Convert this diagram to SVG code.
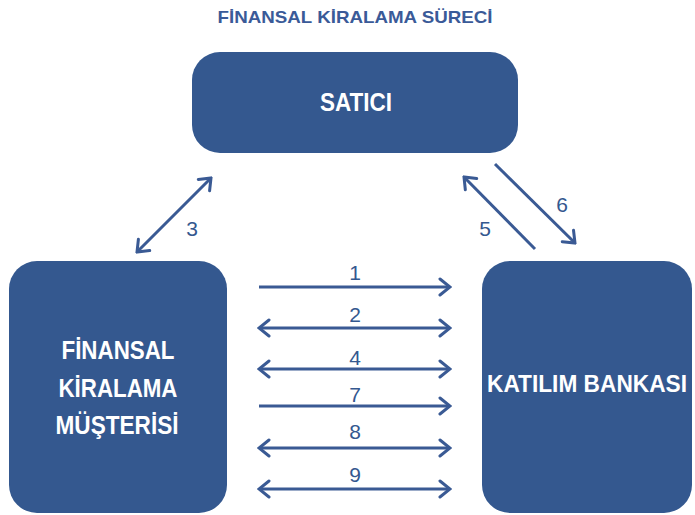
<svg xmlns="http://www.w3.org/2000/svg" width="695" height="515" viewBox="0 0 695 515">
  <style>
    .box { fill: #34588f; }
    .lbl { font-family: "Liberation Sans", Arial, sans-serif; font-weight: bold; font-size: 25px; fill: #ffffff; text-anchor: middle; }
    .num { font-family: "Liberation Sans", Arial, sans-serif; font-size: 21px; fill: #34588f; text-anchor: middle; }
    .title { font-family: "Liberation Sans", Arial, sans-serif; font-weight: bold; font-size: 17px; fill: #3a5a98; text-anchor: middle; }
    .conn { stroke: #3a5a94; stroke-width: 3; fill: none; }
  </style>
  <defs>
    <marker id="head" viewBox="0 0 14 20" refX="12" refY="10" markerWidth="14" markerHeight="20" markerUnits="userSpaceOnUse" orient="auto-start-reverse">
      <path d="M2,2 L12,10 L2,18" fill="none" stroke="#3a5a94" stroke-width="3" stroke-linecap="round" stroke-linejoin="miter"/>
    </marker>
  </defs>

  <text class="title" x="355" y="23" textLength="275" lengthAdjust="spacingAndGlyphs">FİNANSAL KİRALAMA SÜRECİ</text>

  <g id="satici">
    <rect class="box" x="192" y="52" width="326" height="101" rx="28" ry="28"/>
    <text class="lbl" x="356" y="111" textLength="72" lengthAdjust="spacingAndGlyphs">SATICI</text>
  </g>

  <g id="musteri">
    <rect class="box" x="9" y="261" width="218" height="252" rx="28" ry="28"/>
    <text class="lbl" x="118" y="359" textLength="113" lengthAdjust="spacingAndGlyphs">FİNANSAL</text>
    <text class="lbl" x="118" y="397" textLength="119" lengthAdjust="spacingAndGlyphs">KİRALAMA</text>
    <text class="lbl" x="117" y="434" textLength="123" lengthAdjust="spacingAndGlyphs">MÜŞTERİSİ</text>
  </g>

  <g id="banka">
    <rect class="box" x="482" y="261" width="210" height="252" rx="28" ry="28"/>
    <text class="lbl" x="587" y="392" style="font-size:23px" textLength="200" lengthAdjust="spacingAndGlyphs">KATILIM BANKASI</text>
  </g>

  <g id="connectors">
    <line class="conn" x1="137" y1="252" x2="211" y2="178" marker-start="url(#head)" marker-end="url(#head)"/>
    <line class="conn" x1="535" y1="249" x2="464" y2="177" marker-end="url(#head)"/>
    <line class="conn" x1="495" y1="164" x2="575" y2="243" marker-end="url(#head)"/>

    <line class="conn" x1="259" y1="287" x2="450" y2="287" marker-end="url(#head)"/>
    <line class="conn" x1="259" y1="328" x2="450" y2="328" marker-start="url(#head)" marker-end="url(#head)"/>
    <line class="conn" x1="259" y1="369" x2="450" y2="369" marker-start="url(#head)" marker-end="url(#head)"/>
    <line class="conn" x1="259" y1="406" x2="450" y2="406" marker-end="url(#head)"/>
    <line class="conn" x1="259" y1="448" x2="450" y2="448" marker-start="url(#head)" marker-end="url(#head)"/>
    <line class="conn" x1="259" y1="489" x2="450" y2="489" marker-start="url(#head)" marker-end="url(#head)"/>

    <text class="num" x="192" y="236">3</text>
    <text class="num" x="485" y="236">5</text>
    <text class="num" x="562" y="212">6</text>
    <text class="num" x="355" y="280">1</text>
    <text class="num" x="355" y="322">2</text>
    <text class="num" x="355" y="365">4</text>
    <text class="num" x="355" y="402">7</text>
    <text class="num" x="355" y="439">8</text>
    <text class="num" x="355" y="482">9</text>
  </g>
</svg>
